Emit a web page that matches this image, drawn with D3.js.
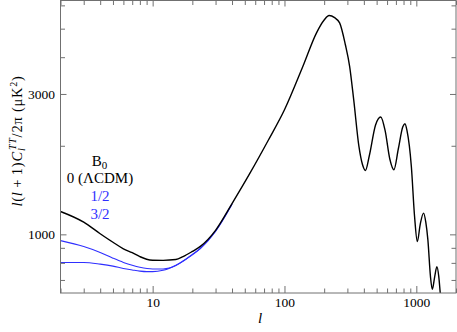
<!DOCTYPE html>
<html>
<head>
<meta charset="utf-8">
<script src="https://cdn.jsdelivr.net/npm/d3@7"></script>
<style>
  html, body { margin: 0; padding: 0; background: #fff; }
  svg { display: block; font-family: "Liberation Serif", "DejaVu Serif", serif; }
</style>
</head>
<body>
<svg id="chart" width="457" height="332"></svg>
<script>
// ---- data ----
const lcdmL = [2, 3, 4, 5, 6, 7, 8, 9, 10, 12, 15, 17, 20, 23, 30, 40, 55, 75, 100, 138, 175, 200, 218, 240, 262, 290, 312, 335, 367, 390, 411, 440, 490, 537, 580, 630, 676, 730, 790, 820, 850, 917, 970, 1018, 1070, 1135, 1180, 1224, 1280, 1322, 1380, 1432, 1480, 1520, 1600];
const lcdmV = [1196, 1100, 1005, 940, 893, 866, 840, 823, 817, 816, 821, 840, 875, 910, 1032, 1272, 1620, 2080, 2650, 3725, 4840, 5350, 5540, 5450, 5234, 4400, 3725, 2869, 1990, 1730, 1649, 1850, 2350, 2506, 2250, 1800, 1658, 1950, 2320, 2377, 2250, 1700, 1150, 945, 1080, 1181, 1100, 958, 720, 650, 720, 777, 720, 630, 500];

const halfL = [2, 3, 4, 5, 6, 7, 8, 10, 12, 15, 17, 20, 23, 30, 40];
const halfV = [952, 909, 868, 830, 803, 785, 773, 763, 763, 783, 810, 855, 897, 1027, 1268];

const threeHalfL = [2, 3, 4, 5, 6, 7, 8, 9, 10, 12, 13, 15, 17, 20, 23, 30, 40];
const threeHalfV = [802, 802, 792, 780, 766, 757, 750, 747, 747, 755, 763, 785, 812, 852, 895, 1024, 1267];

const legendTitle = "B0";
const seriesNames = ["0 (\u039BCDM)", "1/2", "3/2"];
const seriesColors = ["#000000", "#2f2fff", "#2f2fff"];

const xTickLabels = [10, 100, 1000];
const xMinorTicks = [2,3,4,5,6,7,8,9,20,30,40,50,60,70,80,90,200,300,400,500,600,700,800,900,2000];
const yTickLabels = [1000, 3000];
const yMinorTicks = [700, 800, 900, 2000, 4000, 5000, 6000];

// ---- layout ----
const pL = 60.5, pR = 456, pT = 0.5, pB = 293;
const svg = d3.select("#chart");

const x = d3.scaleLog().domain([2, 2000]).range([pL, pR]);
const y = d3.scaleLog().domain([632, 6233]).range([pB, pT]);

const axisColor = "#707070";

// clip
svg.append("defs").append("clipPath").attr("id", "clip")
  .append("rect").attr("x", pL).attr("y", pT).attr("width", pR - pL).attr("height", pB - pT);

// curves
const line = d3.line().x(d => x(d[0])).y(d => y(d[1])).curve(d3.curveMonotoneX);
const series = [
  { L: threeHalfL, V: threeHalfV, c: seriesColors[2], w: 1.1 },
  { L: halfL, V: halfV, c: seriesColors[1], w: 1.1 },
  { L: lcdmL, V: lcdmV, c: seriesColors[0], w: 1.4 }
];
const g = svg.append("g").attr("clip-path", "url(#clip)");
series.forEach(s => {
  g.append("path")
    .datum(s.L.map((l, i) => [l, s.V[i]]))
    .attr("d", line)
    .attr("fill", "none")
    .attr("stroke", s.c)
    .attr("stroke-width", s.w)
    .attr("stroke-linejoin", "round");
});

function styleAxis(sel) {
  sel.select(".domain").remove();
  sel.selectAll(".tick line").attr("stroke", axisColor).attr("stroke-width", 1);
  sel.selectAll(".tick text").attr("fill", "#000").style("font-size", "13.5px")
    .style("font-family", "'Liberation Serif', serif");
}

// bottom
svg.append("g").attr("transform", `translate(0,${pB})`)
  .call(d3.axisBottom(x).tickValues(xTickLabels).tickFormat(d3.format("d")).tickSizeInner(-7).tickSizeOuter(0).tickPadding(4))
  .call(styleAxis);
svg.append("g").attr("transform", `translate(0,${pB})`)
  .call(d3.axisBottom(x).tickValues(xMinorTicks).tickFormat("").tickSizeInner(-4.5).tickSizeOuter(0))
  .call(styleAxis);
// top
svg.append("g").attr("transform", `translate(0,${pT})`)
  .call(d3.axisTop(x).tickValues(xTickLabels).tickFormat("").tickSizeInner(-6).tickSizeOuter(0))
  .call(styleAxis);
svg.append("g").attr("transform", `translate(0,${pT})`)
  .call(d3.axisTop(x).tickValues(xMinorTicks).tickFormat("").tickSizeInner(-4.5).tickSizeOuter(0))
  .call(styleAxis);
// left
svg.append("g").attr("transform", `translate(${pL},0)`)
  .call(d3.axisLeft(y).tickValues(yTickLabels).tickFormat(d3.format("d")).tickSizeInner(-6).tickSizeOuter(0).tickPadding(5.5))
  .call(styleAxis);
svg.append("g").attr("transform", `translate(${pL},0)`)
  .call(d3.axisLeft(y).tickValues(yMinorTicks).tickFormat("").tickSizeInner(-4.5).tickSizeOuter(0))
  .call(styleAxis);
// right
svg.append("g").attr("transform", `translate(${pR},0)`)
  .call(d3.axisRight(y).tickValues(yTickLabels).tickFormat("").tickSizeInner(-6).tickSizeOuter(0))
  .call(styleAxis);
svg.append("g").attr("transform", `translate(${pR},0)`)
  .call(d3.axisRight(y).tickValues(yMinorTicks).tickFormat("").tickSizeInner(-4.5).tickSizeOuter(0))
  .call(styleAxis);

// frame
svg.append("rect").attr("x", pL).attr("y", pT).attr("width", pR - pL).attr("height", pB - pT)
  .attr("fill", "none").attr("stroke", axisColor).attr("stroke-width", 1);

// x label
svg.append("text").attr("x", 260).attr("y", 323).attr("text-anchor", "middle")
  .style("font-size", "15px").style("font-style", "italic").text("l");

// y label (rotated)
const yl = svg.append("text").attr("transform", "translate(22,141) rotate(-90)")
  .attr("text-anchor", "middle").style("font-size", "14.5px");
yl.append("tspan").style("font-style", "italic").text("l");
yl.append("tspan").text("(");
yl.append("tspan").style("font-style", "italic").text("l");
yl.append("tspan").text("\u2009+\u20091)");
yl.append("tspan").style("font-style", "italic").text("C");
yl.append("tspan").style("font-style", "italic").style("font-size", "10px").attr("dy", 3).text("l");
yl.append("tspan").style("font-style", "italic").style("font-size", "10px").attr("dx", -2.5).attr("dy", -9).text("TT");
yl.append("tspan").attr("dy", 6).text("/2\u03C0 (\u03BCK");
yl.append("tspan").style("font-size", "10px").attr("dy", -5).text("2");
yl.append("tspan").attr("dy", 5).text(")");
// fit the title length to the reference span
(function () {
  const target = 133;
  const w = yl.node().getComputedTextLength();
  const n = yl.text().length;
  if (w > 0 && n > 1) yl.style("letter-spacing", ((target - w) / (n - 1)) + "px");
})();

// legend
const lg = svg.append("text").attr("x", 99.5).attr("y", 166).attr("text-anchor", "middle").style("font-size", "15px");
lg.append("tspan").text(legendTitle[0]);
lg.append("tspan").style("font-size", "11px").attr("dy", 3).text(legendTitle.slice(1));
const legY = [182.5, 201, 218.5];
seriesNames.forEach((n, i) => {
  svg.append("text").attr("x", 100).attr("y", legY[i]).attr("text-anchor", "middle")
    .style("font-size", "15px").attr("fill", seriesColors[i]).text(n);
});
</script>
</body>
</html>
